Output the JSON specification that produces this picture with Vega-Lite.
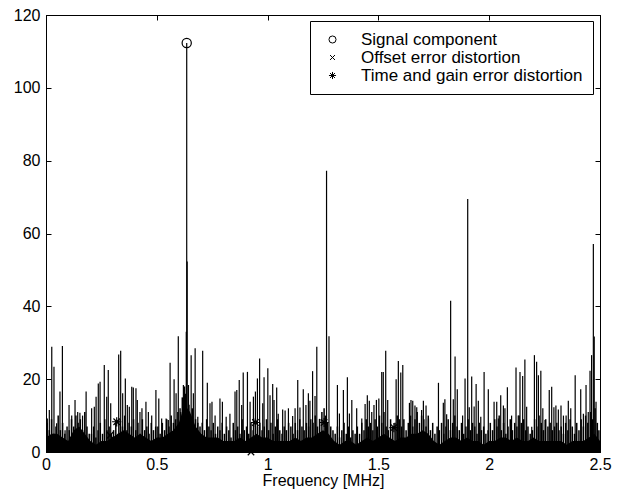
{
 "$schema": "https://vega.github.io/schema/vega-lite/v6.json",
 "width": 554,
 "height": 437,
 "autosize": {"type": "none"},
 "padding": {"left": 46, "top": 15, "right": 27, "bottom": 41},
 "background": "white",
 "config": {
  "view": {"stroke": "black", "strokeWidth": 1},
  "font": "Liberation Sans",
  "axis": {"domainColor": "black", "tickColor": "black", "labelColor": "black", "titleColor": "black", "labelFont": "Liberation Sans", "titleFont": "Liberation Sans", "labelFontSize": 16, "titleFontSize": 16, "titleFontWeight": "normal", "grid": false, "tickSize": -5, "domainWidth": 1, "tickWidth": 1}
 },
 "datasets": {
  "floor": [
   {"f":0,"a":4},{"f":0.025,"a":5},{"f":0.05,"a":5},{"f":0.075,"a":4},{"f":0.1,"a":3},{"f":0.125,"a":6},{"f":0.15,"a":7},{"f":0.175,"a":5},{"f":0.2,"a":3},{"f":0.225,"a":2},{"f":0.25,"a":3},{"f":0.275,"a":3},{"f":0.3,"a":4},{"f":0.325,"a":5},{"f":0.35,"a":6},{"f":0.375,"a":5},{"f":0.4,"a":4},{"f":0.425,"a":5},{"f":0.45,"a":4},{"f":0.475,"a":3},{"f":0.5,"a":4},{"f":0.525,"a":4},{"f":0.55,"a":5},{"f":0.575,"a":6},{"f":0.6,"a":8},{"f":0.625,"a":13},{"f":0.65,"a":11},{"f":0.675,"a":7},{"f":0.7,"a":5},{"f":0.725,"a":4},{"f":0.75,"a":4},{"f":0.775,"a":4},{"f":0.8,"a":3},{"f":0.825,"a":3},{"f":0.85,"a":3},{"f":0.875,"a":4},{"f":0.9,"a":3},{"f":0.925,"a":4},{"f":0.95,"a":5},{"f":0.975,"a":4},{"f":1.0,"a":4},{"f":1.025,"a":3},{"f":1.05,"a":3},{"f":1.075,"a":3},{"f":1.1,"a":3},{"f":1.125,"a":4},{"f":1.15,"a":3},{"f":1.175,"a":4},{"f":1.2,"a":4},{"f":1.225,"a":5},{"f":1.25,"a":6},{"f":1.275,"a":5},{"f":1.3,"a":3},{"f":1.325,"a":2},{"f":1.35,"a":3},{"f":1.375,"a":3},{"f":1.4,"a":2},{"f":1.425,"a":3},{"f":1.45,"a":4},{"f":1.475,"a":3},{"f":1.5,"a":4},{"f":1.525,"a":5},{"f":1.55,"a":4},{"f":1.575,"a":3},{"f":1.6,"a":4},{"f":1.625,"a":4},{"f":1.65,"a":5},{"f":1.675,"a":5},{"f":1.7,"a":6},{"f":1.725,"a":5},{"f":1.75,"a":3},{"f":1.775,"a":2},{"f":1.8,"a":3},{"f":1.825,"a":4},{"f":1.85,"a":4},{"f":1.875,"a":3},{"f":1.9,"a":4},{"f":1.925,"a":3},{"f":1.95,"a":3},{"f":1.975,"a":2},{"f":2.0,"a":3},{"f":2.025,"a":3},{"f":2.05,"a":4},{"f":2.075,"a":4},{"f":2.1,"a":3},{"f":2.125,"a":4},{"f":2.15,"a":3},{"f":2.175,"a":3},{"f":2.2,"a":4},{"f":2.225,"a":3},{"f":2.25,"a":3},{"f":2.275,"a":3},{"f":2.3,"a":3},{"f":2.325,"a":3},{"f":2.35,"a":2},{"f":2.375,"a":3},{"f":2.4,"a":3},{"f":2.425,"a":3},{"f":2.45,"a":4},{"f":2.475,"a":5},{"f":2.5,"a":3}
  ],
  "noise": [
   {"f":0.005,"a":8},{"f":0.015,"a":6},{"f":0.025,"a":9},{"f":0.035,"a":5},{"f":0.045,"a":7},{"f":0.055,"a":10},{"f":0.065,"a":6},{"f":0.075,"a":8},{"f":0.085,"a":5},{"f":0.095,"a":7},
   {"f":0.105,"a":6},{"f":0.115,"a":9},{"f":0.125,"a":7},{"f":0.135,"a":10},{"f":0.145,"a":8},{"f":0.155,"a":9},{"f":0.165,"a":6},{"f":0.175,"a":11},{"f":0.185,"a":7},{"f":0.195,"a":5},
   {"f":0.205,"a":5},{"f":0.215,"a":7},{"f":0.225,"a":4},{"f":0.235,"a":6},{"f":0.245,"a":8},{"f":0.255,"a":5},{"f":0.265,"a":9},{"f":0.275,"a":6},{"f":0.285,"a":7},{"f":0.295,"a":5},
   {"f":0.305,"a":6},{"f":0.315,"a":8},{"f":0.325,"a":5},{"f":0.335,"a":9},{"f":0.345,"a":7},{"f":0.355,"a":10},{"f":0.365,"a":6},{"f":0.375,"a":8},{"f":0.385,"a":7},{"f":0.395,"a":9},
   {"f":0.405,"a":6},{"f":0.415,"a":8},{"f":0.425,"a":5},{"f":0.435,"a":9},{"f":0.445,"a":6},{"f":0.455,"a":7},{"f":0.465,"a":5},{"f":0.475,"a":8},{"f":0.485,"a":6},{"f":0.495,"a":7},
   {"f":0.505,"a":7},{"f":0.515,"a":5},{"f":0.525,"a":8},{"f":0.535,"a":6},{"f":0.545,"a":9},{"f":0.555,"a":7},{"f":0.565,"a":10},{"f":0.575,"a":8},{"f":0.585,"a":9},{"f":0.595,"a":11},
   {"f":0.605,"a":12},{"f":0.615,"a":15},{"f":0.625,"a":18},{"f":0.629,"a":16},{"f":0.645,"a":13},{"f":0.65,"a":10},{"f":0.66,"a":12},{"f":0.675,"a":9},{"f":0.685,"a":8},{"f":0.695,"a":7},
   {"f":0.705,"a":8},{"f":0.715,"a":6},{"f":0.725,"a":9},{"f":0.735,"a":7},{"f":0.745,"a":6},{"f":0.755,"a":8},{"f":0.765,"a":5},{"f":0.775,"a":7},{"f":0.785,"a":6},{"f":0.795,"a":8},
   {"f":0.805,"a":5},{"f":0.815,"a":7},{"f":0.825,"a":6},{"f":0.835,"a":4},{"f":0.845,"a":8},{"f":0.855,"a":6},{"f":0.865,"a":7},{"f":0.875,"a":5},{"f":0.885,"a":9},{"f":0.895,"a":6},
   {"f":0.905,"a":7},{"f":0.915,"a":5},{"f":0.925,"a":8},{"f":0.935,"a":6},{"f":0.945,"a":9},{"f":0.955,"a":7},{"f":0.965,"a":8},{"f":0.975,"a":6},{"f":0.985,"a":7},{"f":0.995,"a":9},
   {"f":1.005,"a":6},{"f":1.015,"a":8},{"f":1.025,"a":5},{"f":1.035,"a":7},{"f":1.045,"a":9},{"f":1.055,"a":6},{"f":1.065,"a":5},{"f":1.075,"a":7},{"f":1.085,"a":6},{"f":1.095,"a":8},
   {"f":1.105,"a":7},{"f":1.115,"a":5},{"f":1.125,"a":8},{"f":1.135,"a":6},{"f":1.145,"a":9},{"f":1.155,"a":7},{"f":1.165,"a":6},{"f":1.175,"a":8},{"f":1.185,"a":7},{"f":1.195,"a":9},
   {"f":1.205,"a":8},{"f":1.215,"a":10},{"f":1.225,"a":7},{"f":1.235,"a":9},{"f":1.245,"a":11},{"f":1.255,"a":12},{"f":1.262,"a":10},{"f":1.27,"a":8},{"f":1.285,"a":7},{"f":1.295,"a":6},
   {"f":1.305,"a":5},{"f":1.315,"a":7},{"f":1.325,"a":4},{"f":1.335,"a":6},{"f":1.345,"a":8},{"f":1.355,"a":5},{"f":1.365,"a":7},{"f":1.375,"a":4},{"f":1.385,"a":6},{"f":1.395,"a":5},
   {"f":1.405,"a":7},{"f":1.415,"a":5},{"f":1.425,"a":8},{"f":1.435,"a":6},{"f":1.445,"a":9},{"f":1.455,"a":7},{"f":1.465,"a":8},{"f":1.475,"a":6},{"f":1.485,"a":9},{"f":1.495,"a":7},
   {"f":1.505,"a":10},{"f":1.515,"a":8},{"f":1.525,"a":11},{"f":1.535,"a":7},{"f":1.545,"a":6},{"f":1.555,"a":9},{"f":1.565,"a":7},{"f":1.575,"a":8},{"f":1.585,"a":10},{"f":1.595,"a":9},
   {"f":1.605,"a":7},{"f":1.615,"a":9},{"f":1.625,"a":6},{"f":1.635,"a":8},{"f":1.645,"a":10},{"f":1.655,"a":7},{"f":1.665,"a":9},{"f":1.675,"a":11},{"f":1.685,"a":8},{"f":1.695,"a":10},
   {"f":1.705,"a":9},{"f":1.715,"a":7},{"f":1.725,"a":10},{"f":1.735,"a":6},{"f":1.745,"a":8},{"f":1.755,"a":5},{"f":1.765,"a":7},{"f":1.775,"a":6},{"f":1.785,"a":8},{"f":1.795,"a":5},
   {"f":1.805,"a":7},{"f":1.815,"a":9},{"f":1.825,"a":6},{"f":1.835,"a":8},{"f":1.845,"a":10},{"f":1.855,"a":7},{"f":1.865,"a":6},{"f":1.875,"a":8},{"f":1.885,"a":5},{"f":1.895,"a":7},
   {"f":1.905,"a":9},{"f":1.915,"a":6},{"f":1.925,"a":8},{"f":1.935,"a":7},{"f":1.945,"a":5},{"f":1.955,"a":8},{"f":1.965,"a":6},{"f":1.975,"a":7},{"f":1.985,"a":5},{"f":1.995,"a":6},
   {"f":2.005,"a":8},{"f":2.015,"a":6},{"f":2.025,"a":9},{"f":2.035,"a":7},{"f":2.045,"a":10},{"f":2.055,"a":6},{"f":2.065,"a":8},{"f":2.075,"a":5},{"f":2.085,"a":7},{"f":2.095,"a":9},
   {"f":2.105,"a":6},{"f":2.115,"a":8},{"f":2.125,"a":7},{"f":2.135,"a":10},{"f":2.145,"a":8},{"f":2.155,"a":9},{"f":2.165,"a":6},{"f":2.175,"a":7},{"f":2.185,"a":5},{"f":2.195,"a":6},
   {"f":2.205,"a":9},{"f":2.215,"a":7},{"f":2.225,"a":10},{"f":2.235,"a":8},{"f":2.245,"a":6},{"f":2.255,"a":9},{"f":2.265,"a":7},{"f":2.275,"a":8},{"f":2.285,"a":6},{"f":2.295,"a":7},
   {"f":2.305,"a":8},{"f":2.315,"a":6},{"f":2.325,"a":7},{"f":2.335,"a":5},{"f":2.345,"a":8},{"f":2.355,"a":6},{"f":2.365,"a":9},{"f":2.375,"a":7},{"f":2.385,"a":5},{"f":2.395,"a":8},
   {"f":2.405,"a":6},{"f":2.415,"a":9},{"f":2.425,"a":7},{"f":2.435,"a":10},{"f":2.445,"a":8},{"f":2.458,"a":11},{"f":2.466,"a":9},{"f":2.478,"a":12},{"f":2.488,"a":8},{"f":2.495,"a":6}
  ],
  "spikes": [
   {"f":0.006,"a":9.2},{"f":0.015,"a":11.5},{"f":0.026,"a":28.9},{"f":0.036,"a":23.4},{"f":0.048,"a":7.9},{"f":0.063,"a":16.6},{"f":0.074,"a":29.1},{"f":0.086,"a":6},{"f":0.104,"a":12.9},{"f":0.116,"a":10},{"f":0.131,"a":14.3},{"f":0.143,"a":11},{"f":0.153,"a":10.8},{"f":0.165,"a":10},{"f":0.181,"a":16.6},{"f":0.206,"a":12},{"f":0.218,"a":12.4},{"f":0.226,"a":15.2},{"f":0.236,"a":18.8},{"f":0.244,"a":19.3},{"f":0.263,"a":23.9},{"f":0.274,"a":15.2},{"f":0.281,"a":22.5},{"f":0.292,"a":13.4},{"f":0.328,"a":26.8},{"f":0.337,"a":27.8},{"f":0.346,"a":16.1},{"f":0.358,"a":20.2},{"f":0.367,"a":12.9},{"f":0.376,"a":12.4},{"f":0.387,"a":17.9},{"f":0.394,"a":17.7},{"f":0.406,"a":17.5},{"f":0.412,"a":14.3},{"f":0.424,"a":11},{"f":0.433,"a":12},{"f":0.451,"a":13.8},{"f":0.462,"a":11},{"f":0.477,"a":10},{"f":0.496,"a":17},{"f":0.509,"a":14.7},{"f":0.522,"a":9.2},{"f":0.542,"a":9.2},{"f":0.552,"a":8.8},{"f":0.56,"a":24.5},{"f":0.578,"a":20},{"f":0.587,"a":16.1},{"f":0.597,"a":31.8},{"f":0.608,"a":11},{"f":0.62,"a":18.4},{"f":0.633,"a":33},{"f":0.635,"a":112.3},{"f":0.637,"a":52.3},{"f":0.643,"a":18.4},{"f":0.655,"a":26.6},{"f":0.665,"a":16.1},{"f":0.673,"a":28.5},{"f":0.685,"a":9.7},{"f":0.707,"a":27.8},{"f":0.728,"a":19},{"f":0.74,"a":13.4},{"f":0.749,"a":13.8},{"f":0.763,"a":10},{"f":0.785,"a":14.7},{"f":0.796,"a":13.8},{"f":0.813,"a":9.7},{"f":0.83,"a":10.5},{"f":0.853,"a":16.6},{"f":0.861,"a":17},{"f":0.872,"a":19.8},{"f":0.883,"a":12.9},{"f":0.89,"a":21.8},{"f":0.909,"a":22},{"f":0.921,"a":13.8},{"f":0.936,"a":15.2},{"f":0.945,"a":16.6},{"f":0.954,"a":20.2},{"f":0.964,"a":25.7},{"f":0.978,"a":13.4},{"f":0.984,"a":20.5},{"f":1.001,"a":23},{"f":1.011,"a":15.6},{"f":1.023,"a":18.7},{"f":1.029,"a":14.3},{"f":1.041,"a":17.7},{"f":1.048,"a":10.5},{"f":1.068,"a":11.7},{"f":1.079,"a":11.4},{"f":1.094,"a":12},{"f":1.113,"a":9.9},{"f":1.124,"a":12},{"f":1.136,"a":19.8},{"f":1.146,"a":12.2},{"f":1.161,"a":17.2},{"f":1.173,"a":12.9},{"f":1.184,"a":16.1},{"f":1.191,"a":14.1},{"f":1.203,"a":22.2},{"f":1.214,"a":15.4},{"f":1.222,"a":28.9},{"f":1.234,"a":9.1},{"f":1.266,"a":77.2},{"f":1.277,"a":31.8},{"f":1.315,"a":18.4},{"f":1.324,"a":10.6},{"f":1.342,"a":17},{"f":1.36,"a":20.5},{"f":1.369,"a":10.6},{"f":1.38,"a":14.3},{"f":1.402,"a":12},{"f":1.425,"a":9.2},{"f":1.44,"a":13.2},{"f":1.45,"a":15.6},{"f":1.459,"a":14.1},{"f":1.47,"a":11},{"f":1.48,"a":12.9},{"f":1.491,"a":14.3},{"f":1.502,"a":14.7},{"f":1.515,"a":22},{"f":1.522,"a":22},{"f":1.533,"a":27.8},{"f":1.542,"a":14.3},{"f":1.58,"a":20},{"f":1.59,"a":25},{"f":1.601,"a":21.8},{"f":1.61,"a":23.9},{"f":1.64,"a":13.5},{"f":1.647,"a":14.3},{"f":1.655,"a":14.1},{"f":1.665,"a":12.8},{"f":1.673,"a":12.3},{"f":1.695,"a":11.5},{"f":1.703,"a":14.1},{"f":1.715,"a":12.8},{"f":1.726,"a":9.2},{"f":1.771,"a":19},{"f":1.793,"a":13.5},{"f":1.8,"a":14.5},{"f":1.808,"a":10.4},{"f":1.826,"a":41.5},{"f":1.838,"a":14.5},{"f":1.846,"a":26.2},{"f":1.856,"a":17.2},{"f":1.88,"a":10},{"f":1.891,"a":20.2},{"f":1.903,"a":69.5},{"f":1.91,"a":12.3},{"f":1.921,"a":20.7},{"f":1.932,"a":12.5},{"f":1.941,"a":18.7},{"f":1.951,"a":14.1},{"f":1.962,"a":9.7},{"f":1.977,"a":22},{"f":1.996,"a":17.2},{"f":2.022,"a":13.8},{"f":2.034,"a":13.8},{"f":2.041,"a":9.2},{"f":2.052,"a":15.6},{"f":2.064,"a":12.8},{"f":2.071,"a":12},{"f":2.082,"a":17.8},{"f":2.101,"a":10},{"f":2.121,"a":23.2},{"f":2.131,"a":10},{"f":2.139,"a":22},{"f":2.151,"a":20.9},{"f":2.161,"a":25.4},{"f":2.169,"a":12.4},{"f":2.192,"a":6.9},{"f":2.204,"a":26.6},{"f":2.214,"a":24.8},{"f":2.222,"a":21.1},{"f":2.233,"a":22.3},{"f":2.242,"a":12},{"f":2.252,"a":8.8},{"f":2.271,"a":17},{"f":2.282,"a":17.9},{"f":2.292,"a":12.3},{"f":2.301,"a":12.8},{"f":2.312,"a":11.7},{"f":2.324,"a":12.8},{"f":2.335,"a":10},{"f":2.347,"a":10},{"f":2.357,"a":14.1},{"f":2.368,"a":12},{"f":2.388,"a":21.1},{"f":2.413,"a":17.2},{"f":2.425,"a":10.5},{"f":2.437,"a":18.4},{"f":2.447,"a":11},{"f":2.455,"a":22.3},{"f":2.462,"a":26.6},{"f":2.47,"a":57.1},{"f":2.474,"a":31.7},{"f":2.482,"a":13.8}
  ],
  "markers": [
   {"f":0.635,"a":112.3,"kind":"Signal component"},
   {"f":0.289,"a":4.6,"kind":"Offset error distortion"},
   {"f":0.925,"a":0,"kind":"Offset error distortion"},
   {"f":0.319,"a":8.3,"kind":"Time and gain error distortion"},
   {"f":0.945,"a":8.1,"kind":"Time and gain error distortion"},
   {"f":1.255,"a":8.1,"kind":"Time and gain error distortion"},
   {"f":1.57,"a":6.7,"kind":"Time and gain error distortion"}
  ]
 },
 "layer": [
  {
   "data": {"name": "floor"},
   "mark": {"type": "area", "interpolate": "linear", "color": "black"},
   "encoding": {
    "x": {"field": "f", "type": "quantitative", "scale": {"domain": [0, 2.5], "nice": false, "zero": false}, "axis": {"orient": "top", "labels": false, "title": null, "values": [0, 0.5, 1, 1.5, 2, 2.5]}},
    "y": {"field": "a", "type": "quantitative", "scale": {"domain": [0, 120], "nice": false}, "axis": {"orient": "right", "labels": false, "title": null, "values": [0, 20, 40, 60, 80, 100, 120]}}
   }
  },
  {
   "data": {"name": "noise"},
   "mark": {"type": "rule", "color": "black", "strokeWidth": 1.5},
   "encoding": {
    "x": {"field": "f", "type": "quantitative", "axis": null},
    "y": {"field": "a", "type": "quantitative", "axis": null},
    "y2": {"datum": 0}
   }
  },
  {
   "data": {"name": "spikes"},
   "mark": {"type": "rule", "color": "black", "strokeWidth": 1.2},
   "encoding": {
    "x": {"field": "f", "type": "quantitative", "axis": {"orient": "bottom", "title": "Frequency [MHz]", "format": "~g", "values": [0, 0.5, 1, 1.5, 2, 2.5], "labelPadding": 9, "titlePadding": 0, "labelFlush": false}},
    "y": {"field": "a", "type": "quantitative", "axis": {"orient": "left", "title": null, "values": [0, 20, 40, 60, 80, 100, 120], "labelPadding": 11}},
    "y2": {"datum": 0}
   }
  },
  {
   "data": {"name": "markers"},
   "mark": {"type": "point", "filled": false, "color": "black", "strokeWidth": 1.2, "size": 85, "opacity": 1},
   "encoding": {
    "x": {"field": "f", "type": "quantitative", "axis": null},
    "y": {"field": "a", "type": "quantitative", "axis": null},
    "shape": {
     "field": "kind", "type": "nominal",
     "scale": {"domain": ["Signal component", "Offset error distortion", "Time and gain error distortion"], "range": ["circle", "M-0.7,-0.7L0.7,0.7M-0.7,0.7L0.7,-0.7", "M-1,0L1,0M0,-1L0,1M-0.7,-0.7L0.7,0.7M-0.7,0.7L0.7,-0.7"]},
     "legend": {"orient": "none", "legendX": 264, "legendY": 6, "title": null, "strokeColor": "black", "fillColor": "white", "padding": 10, "labelFont": "Liberation Sans", "labelFontSize": 17, "labelLimit": 400, "labelColor": "black", "symbolStrokeColor": "black", "symbolFillColor": "transparent", "symbolSize": 50, "symbolStrokeWidth": 1, "rowPadding": 0, "labelOffset": 20, "symbolOffset": 4}
    }
   }
  }
 ],
 "resolve": {"axis": {"x": "independent", "y": "independent"}}
}
